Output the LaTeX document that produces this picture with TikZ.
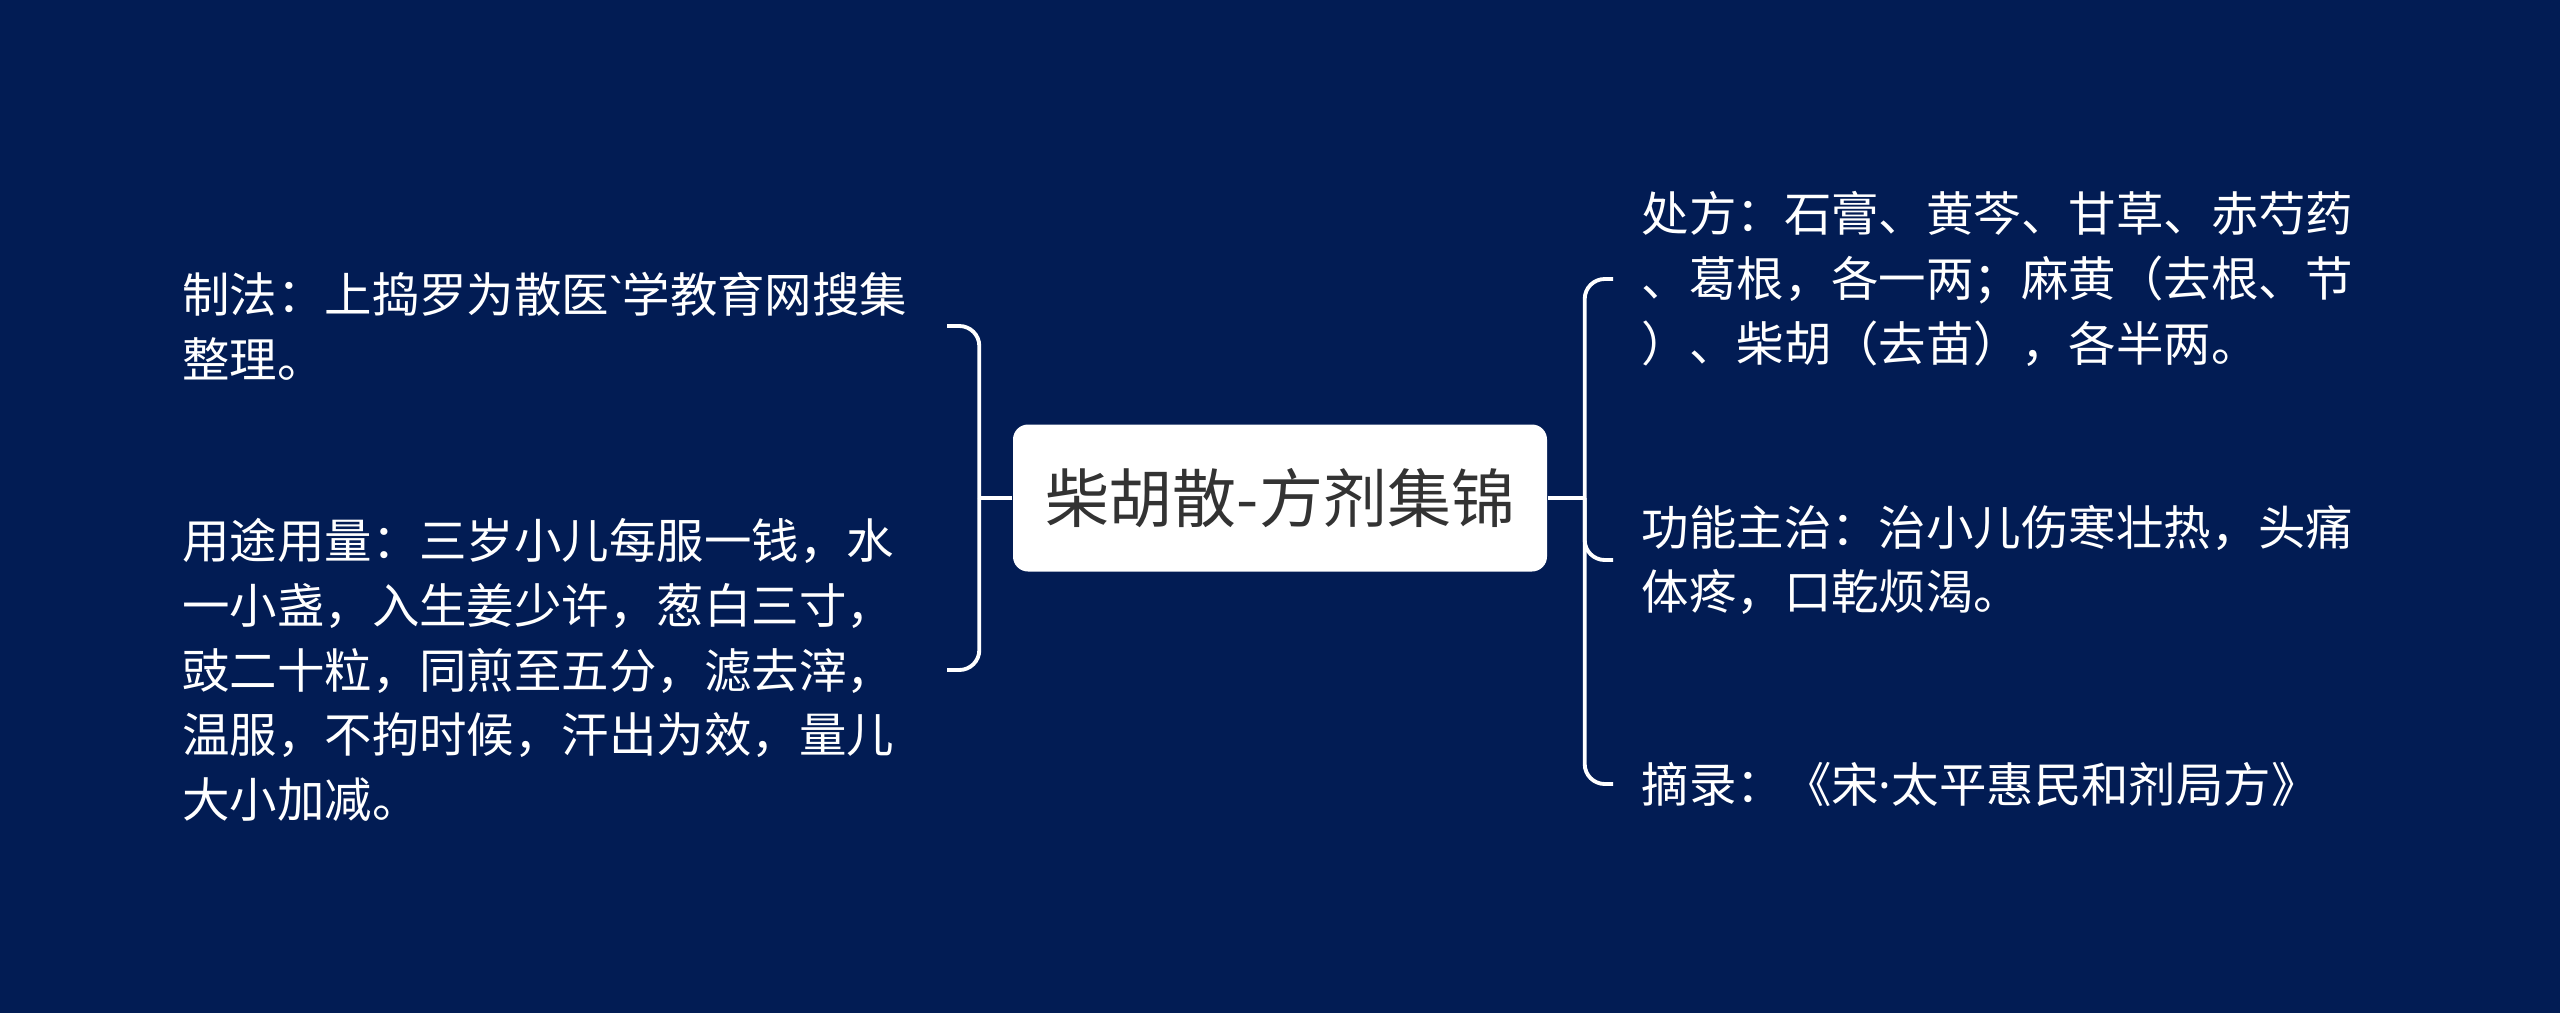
\documentclass[tikz,border=0pt]{standalone}
\usepackage{fontspec}
\newfontfamily\cjk{Noto Sans CJK SC}
\newfontfamily\latn{Noto Sans}
\usetikzlibrary{positioning}
\definecolor{navy}{RGB}{2,28,84}
\definecolor{inkgray}{RGB}{51,51,51}
\begin{document}
\begin{tikzpicture}[
topic/.style={fill=white,rounded corners=1.5mm,minimum width=53.4mm,minimum height=14.7mm,text=inkgray,font=\cjk\fontsize{18.2pt}{22pt}\selectfont},
leaf/.style={text=white,text width=73.6mm,align=left,inner xsep=2.8mm,inner ysep=0pt,font=\cjk\fontsize{13.5pt}{18.4pt}\selectfont},
link/.style={draw=white,line width=1.1pt,rounded corners=2mm}
]
\fill[navy] (0,0) rectangle (25.6,-10.13);
\node[topic] (root) at (12.80,-4.98) {柴胡散-方剂集锦};
\node[leaf,anchor=east] (zf) at (9.47,-3.26) {制法：上捣罗为散医{\latn `}学教育网搜集\\整理。};
\node[leaf,anchor=east] (yt) at (9.47,-6.70) {用途用量：三岁小儿每服一钱，水\\一小盏，入生姜少许，葱白三寸，\\豉二十粒，同煎至五分，滤去滓，\\温服，不拘时候，汗出为效，量儿\\大小加减。};
\node[leaf,anchor=west] (cf) at (16.13,-2.79) {处方：石膏、黄芩、甘草、赤芍药\\、葛根，各一两；麻黄（去根、节\\）、柴胡（去苗），各半两。};
\node[leaf,anchor=west] (gn) at (16.13,-5.60) {功能主治：治小儿伤寒壮热，头痛\\体疼，口乾烦渴。};
\node[leaf,anchor=west] (zl) at (16.13,-7.84) {摘录：《宋{\latn ·}太平惠民和剂局方》};
\coordinate[left=3.3mm of root] (lj);
\coordinate[right=3.7mm of root] (rj);
\draw[link] (root.west) -- (lj);
\draw[link] (lj) |- (zf.east);
\draw[link] (lj) |- (yt.east);
\draw[link] (root.east) -- (rj);
\draw[link] (rj) |- (cf.west);
\draw[link] (rj) |- (gn.west);
\draw[link] (rj) |- (zl.west);
\end{tikzpicture}
\end{document}
